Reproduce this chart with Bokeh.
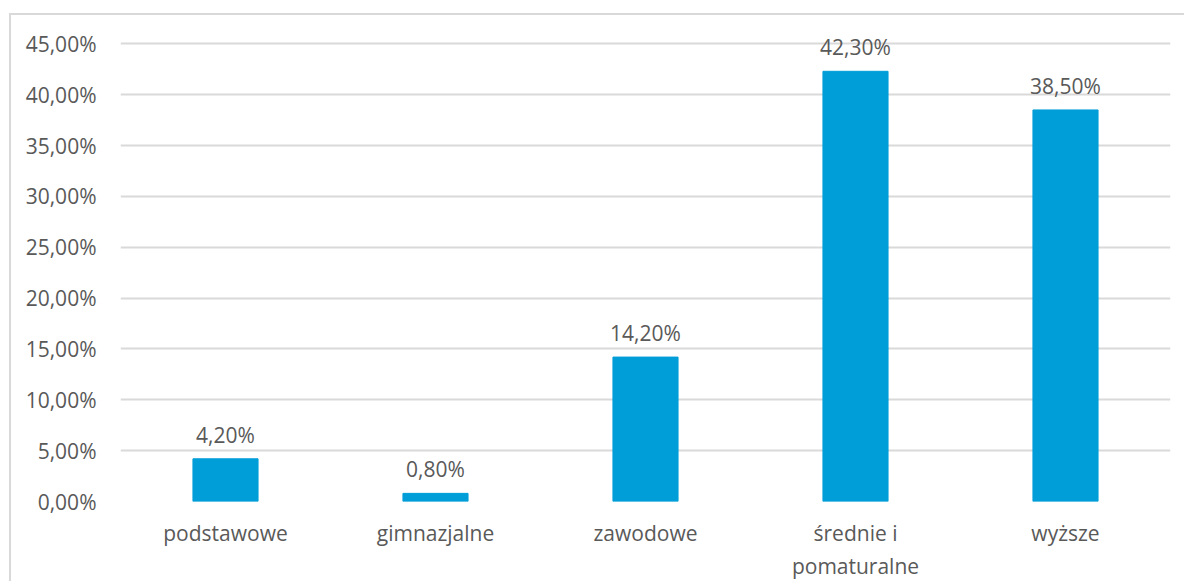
from bokeh.plotting import figure
from bokeh.models import ColumnDataSource, FactorRange, Range1d, CustomJSTickFormatter
from bokeh.core.properties import value
from bokeh.embed import file_html
from bokeh.resources import INLINE

categories = ["podstawowe", "gimnazjalne", "zawodowe", "średnie i\npomaturalne", "wyższe"]
values = [4.2, 0.8, 14.2, 42.3, 38.5]
labels = ["4,20%", "0,80%", "14,20%", "42,30%", "38,50%"]
y_ticks = [0, 5, 10, 15, 20, 25, 30, 35, 40, 45]

FONT = "Open Sans"
TXT = "#595959"
GRID = "#d9d9d9"
BAR = "#009ED8"

src = ColumnDataSource(dict(cat=categories, val=values, lab=labels))

p = figure(x_range=FactorRange(*categories), y_range=Range1d(0, 47),
           width=1175, height=568, output_backend="svg", toolbar_location=None,
           min_border_left=109, min_border_right=16, min_border_top=8, min_border_bottom=70)
p.styles = {"border-left": "2px solid #d9d9d9", "border-top": "2px solid #d9d9d9",
            "margin-top": "13px", "margin-left": "9px"}
p.x_range.range_padding = 0
p.outline_line_color = None

p.vbar(x="cat", top="val", width=0.31, color=BAR, source=src)
p.text(x="cat", y="val", text="lab", source=src, text_align="center", text_baseline="bottom",
       y_offset=-10, text_font=value(FONT), text_font_size="21px", text_color=TXT)

p.yaxis.ticker = y_ticks
p.yaxis.formatter = CustomJSTickFormatter(code="return tick.toFixed(2).replace('.', ',') + '%';")
p.yaxis.axis_line_color = None
p.yaxis.major_tick_line_color = None
p.yaxis.minor_tick_line_color = None
p.yaxis.major_label_standoff = 18
p.xaxis.axis_line_color = None
p.xaxis.major_tick_line_color = None
p.xaxis.major_label_standoff = 11
for ax in (p.xaxis, p.yaxis):
    ax.major_label_text_font = FONT
    ax.major_label_text_font_size = "21px"
    ax.major_label_text_color = TXT
p.xgrid.grid_line_color = None
p.ygrid.grid_line_color = GRID
p.ygrid.grid_line_width = 2

open("out.html", "w").write(file_html(p, INLINE))
